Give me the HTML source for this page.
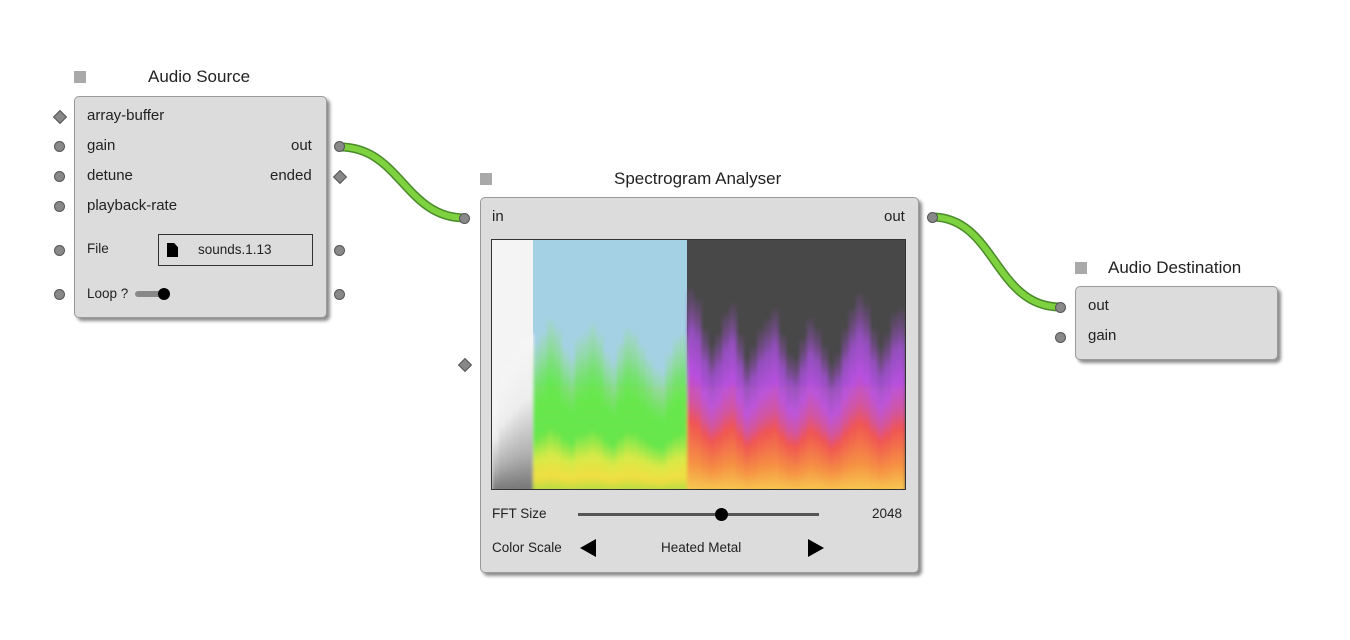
<!DOCTYPE html>
<html><head><meta charset="utf-8">
<style>
body{margin:0;width:1350px;height:640px;background:#fff;position:relative;overflow:hidden;font-family:"Liberation Sans",Arial,sans-serif;color:#222;}
.abs{position:absolute;}
.node{position:absolute;background:#dcdcdc;border:1px solid #9a9a9a;border-radius:5px;box-shadow:3px 3px 3px rgba(0,0,0,0.45);}
.title{position:absolute;font-size:17px;color:#222;}
.sq{position:absolute;width:12px;height:12px;background:#a9a9a9;}
.lbl{position:absolute;font-size:15px;color:#222;}
.sm{font-size:13.5px;}
.port{position:absolute;width:9px;height:9px;border-radius:50%;background:#888;border:1px solid #555;}
.dia{position:absolute;width:8px;height:8px;background:#888;border:1px solid #555;transform:rotate(45deg);}
</style></head><body>
<svg class="abs" style="left:0;top:0" width="1350" height="640">
<path d="M340 147 C 400 147, 405 218, 465 218" stroke="#4a8a2a" stroke-width="9" fill="none"/>
<path d="M340 147 C 400 147, 405 218, 465 218" stroke="#7ed23f" stroke-width="6" fill="none"/>
<path d="M932 217 C 995 217, 995 307, 1060 307" stroke="#4a8a2a" stroke-width="9" fill="none"/>
<path d="M932 217 C 995 217, 995 307, 1060 307" stroke="#7ed23f" stroke-width="6" fill="none"/>
</svg>

<!-- Audio Source -->
<div class="sq" style="left:74px;top:71px"></div>
<div class="title" style="left:148px;top:67px">Audio Source</div>
<div class="node" style="left:74px;top:96px;width:251px;height:220px"></div>
<div class="dia" style="left:55px;top:112px"></div>
<div class="lbl" style="left:87px;top:107px">array-buffer</div>
<div class="port" style="left:54px;top:141px"></div>
<div class="lbl" style="left:87px;top:137px">gain</div>
<div class="lbl" style="left:291px;top:137px">out</div>
<div class="port" style="left:334px;top:141px"></div>
<div class="port" style="left:54px;top:171px"></div>
<div class="lbl" style="left:87px;top:167px">detune</div>
<div class="lbl" style="left:270px;top:167px">ended</div>
<div class="dia" style="left:335px;top:172px"></div>
<div class="port" style="left:54px;top:201px"></div>
<div class="lbl" style="left:87px;top:197px">playback-rate</div>
<div class="port" style="left:54px;top:245px"></div>
<div class="lbl sm" style="left:87px;top:241px">File</div>
<div class="abs" style="left:158px;top:234px;width:155px;height:32px;border:1px solid #333;box-sizing:border-box">
 <div class="abs" style="left:8px;top:8px;width:11px;height:14px;background:#000;clip-path:polygon(0 0,65% 0,100% 30%,100% 100%,0 100%)"></div>
 <div class="abs sm" style="left:39px;top:7px">sounds.1.13</div>
</div>
<div class="port" style="left:334px;top:245px"></div>
<div class="port" style="left:54px;top:289px"></div>
<div class="lbl sm" style="left:87px;top:286px">Loop ?</div>
<div class="abs" style="left:135px;top:291px;width:30px;height:6px;background:#888;border-radius:3px"></div>
<div class="abs" style="left:158px;top:288px;width:12px;height:12px;background:#000;border-radius:50%"></div>
<div class="port" style="left:334px;top:289px"></div>

<!-- Spectrogram Analyser -->
<div class="sq" style="left:480px;top:173px"></div>
<div class="title" style="left:614px;top:169px">Spectrogram Analyser</div>
<div class="node" style="left:480px;top:197px;width:437px;height:374px"></div>
<div class="port" style="left:459px;top:213px"></div>
<div class="lbl" style="left:492px;top:208px">in</div>
<div class="lbl" style="left:884px;top:208px">out</div>
<div class="port" style="left:927px;top:212px"></div>
<div class="dia" style="left:460px;top:360px"></div>
<svg class="abs" id="spec" style="left:491px;top:239px" width="415" height="251">
<defs>
<linearGradient id="gw" x1="0" y1="0" x2="0" y2="1"><stop offset="0" stop-color="#f6f6f6"/><stop offset="0.4" stop-color="#eeeeee"/><stop offset="0.75" stop-color="#b0b0b0"/><stop offset="1" stop-color="#707070"/></linearGradient>
<linearGradient id="gg" x1="0" y1="0" x2="0" y2="1"><stop offset="0" stop-color="#8fe07a" stop-opacity="0.15"/><stop offset="0.25" stop-color="#6ee45a" stop-opacity="0.8"/><stop offset="0.4" stop-color="#5eea4a"/><stop offset="0.62" stop-color="#5ee84a"/><stop offset="0.78" stop-color="#d6ec44"/><stop offset="0.9" stop-color="#f0e040"/><stop offset="1" stop-color="#a8e040"/></linearGradient>
<linearGradient id="gh" x1="0" y1="0" x2="0" y2="1"><stop offset="0" stop-color="#7a4a90" stop-opacity="0.2"/><stop offset="0.2" stop-color="#a050d0" stop-opacity="0.85"/><stop offset="0.4" stop-color="#b850e0"/><stop offset="0.55" stop-color="#d050a0"/><stop offset="0.65" stop-color="#f05050"/><stop offset="0.85" stop-color="#f59040"/><stop offset="1" stop-color="#f8d050"/></linearGradient>
<filter id="blur" x="-5%" y="-5%" width="110%" height="110%"><feGaussianBlur stdDeviation="1.5 2.5"/></filter>
<clipPath id="cp"><rect x="1" y="1" width="413" height="249"/></clipPath>
</defs>
<rect x="0" y="0" width="415" height="251" fill="#333"/>
<rect x="1" y="1" width="41" height="249" fill="#f4f4f4"/>
<rect x="42" y="1" width="154" height="249" fill="#a5d1e4"/>
<rect x="196" y="1" width="218" height="249" fill="#484848"/>
<g clip-path="url(#cp)"><g id="cols" filter="url(#blur)"></g></g>
</svg>
<div class="lbl sm" style="left:492px;top:506px">FFT Size</div>
<div class="abs" style="left:578px;top:513px;width:241px;height:3px;background:#555"></div>
<div class="abs" style="left:715px;top:508px;width:13px;height:13px;background:#000;border-radius:50%"></div>
<div class="lbl sm" style="left:872px;top:506px">2048</div>
<div class="lbl sm" style="left:492px;top:540px">Color Scale</div>
<div class="abs" style="left:580px;top:539px;width:0;height:0;border-top:9px solid transparent;border-bottom:9px solid transparent;border-right:16px solid #000"></div>
<div class="lbl sm" style="left:661px;top:540px">Heated Metal</div>
<div class="abs" style="left:808px;top:539px;width:0;height:0;border-top:9px solid transparent;border-bottom:9px solid transparent;border-left:16px solid #000"></div>

<!-- Audio Destination -->
<div class="sq" style="left:1075px;top:262px"></div>
<div class="title" style="left:1108px;top:258px">Audio Destination</div>
<div class="node" style="left:1075px;top:286px;width:201px;height:72px"></div>
<div class="port" style="left:1055px;top:302px"></div>
<div class="lbl" style="left:1088px;top:297px">out</div>
<div class="port" style="left:1055px;top:332px"></div>
<div class="lbl" style="left:1088px;top:327px">gain</div>

<script>
// Spectral activity height per column (fraction of canvas height)
const greySpectrum = [0.35,0.45,0.5,0.55,0.6,0.62];
const greenSpectrum = [0.58,0.62,0.68,0.64,0.56,0.52,0.6,0.62,0.66,0.62,0.54,0.5,0.58,0.64,0.62,0.57,0.52,0.48,0.46,0.54,0.6,0.62];
const heatSpectrum = [0.8,0.76,0.64,0.57,0.62,0.7,0.74,0.62,0.52,0.57,0.64,0.68,0.72,0.62,0.54,0.52,0.6,0.68,0.64,0.57,0.5,0.54,0.64,0.72,0.78,0.74,0.64,0.57,0.62,0.7,0.72];
const H = 249, TOP = 1;
const g = document.getElementById('cols');
const NS = 'http://www.w3.org/2000/svg';
function yScale(v){ return TOP + H*(1-v); }
function drawSection(arr, x0, width, grad, name){
  const w = width/arr.length;
  arr.forEach((v,i)=>{
    const r = document.createElementNS(NS,'rect');
    r.setAttribute('x', x0 + i*w);
    r.setAttribute('y', yScale(v));
    r.setAttribute('width', w+0.5);
    r.setAttribute('height', H*v + 4);
    r.setAttribute('fill', 'url(#'+grad+')');
    
    
    g.appendChild(r);
  });
}
drawSection(greySpectrum, 1, 41, 'gw', 'grey-spectrum-column');
drawSection(greenSpectrum, 42, 154, 'gg', 'green-spectrum-column');
drawSection(heatSpectrum, 196, 218, 'gh', 'heat-spectrum-column');
// horizontal harmonic streaks
for(let k=0;k<40;k++){
  const y = 150 + k*2.5;
  const l = document.createElementNS(NS,'line');
  l.setAttribute('x1', 42); l.setAttribute('x2', 414);
  l.setAttribute('y1', y); l.setAttribute('y2', y);
  l.setAttribute('stroke', k%3===0 ? 'rgba(255,150,60,0.25)' : 'rgba(255,255,255,0.06)');
  l.setAttribute('stroke-width', 1);
  
  
  g.appendChild(l);
}
</script>
</body></html>
